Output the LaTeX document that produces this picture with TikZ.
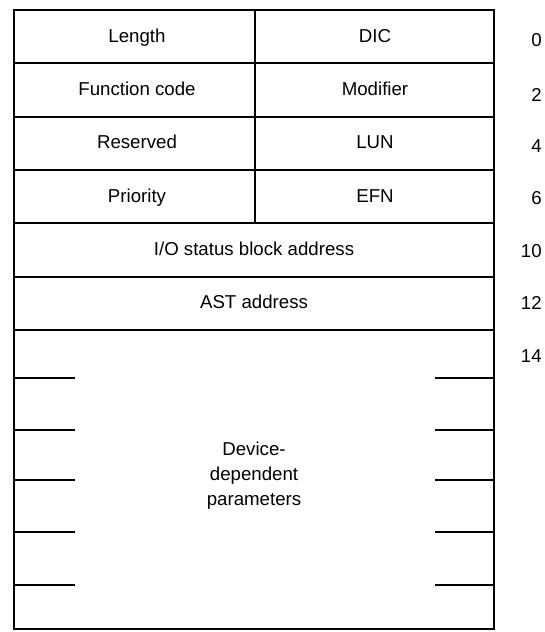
\documentclass[tikz,border=0pt]{standalone}
\usepackage{fontspec}
\setmainfont{Liberation Sans}
\begin{document}
\begin{tikzpicture}[x=0.75pt,y=-0.75pt,
  frame/.style={line width=1.8pt},
  rule/.style={line width=1.6pt},
  txt/.style={font=\fontsize{14}{18.75}\selectfont, inner sep=0pt, align=center},
  lbl/.style={txt, text height=0.72em, text depth=0pt},
  off/.style={font=\fontsize{14}{16}\selectfont, inner sep=0pt, anchor=east,
              text height=0.72em, text depth=0pt}]
\useasboundingbox (0,0) rectangle (545,632);
% outer frame and row rules
\draw[frame] (14,10) rectangle (494,629);
\foreach \y in {63.3,116.7,170,223.3,276.7,330}
  \draw[rule] (14,\y) -- (494,\y);
\draw[rule] (255,10) -- (255,223.3);
% ticks in the parameter area
\foreach \y in {378,430,480,532,585} {
  \draw[rule] (14,\y) -- (75,\y);
  \draw[rule] (435,\y) -- (494,\y);
}
% field texts
\node[lbl] (len) at (137,37.5) {Length};
\node[lbl] (dic) at (375,37.5) {DIC};
\node[lbl] (fc)  at (137,91)   {Function code};
\node[lbl] (mod) at (375,91)   {Modifier};
\node[lbl] (res) at (137,144) {Reserved};
\node[lbl] (lun) at (375,144) {LUN};
\node[lbl] (pri) at (137,197.5) {Priority};
\node[lbl] (efn) at (375,197.5) {EFN};
\node[lbl] (iosb) at (254,251) {I/O status block address};
\node[lbl] (ast) at (254,304) {AST address};
\node[txt] (ddp) at (254,476) {Device-\\dependent\\parameters};
% offsets
\node[off] (o0)  at (542,42)  {0};
\node[off] (o2)  at (542,97)  {2};
\node[off] (o4)  at (542,148) {4};
\node[off] (o6)  at (542,200) {6};
\node[off] (o10) at (542,253) {10};
\node[off] (o12) at (542,305) {12};
\node[off] (o14) at (542,358) {14};
\end{tikzpicture}
\end{document}
